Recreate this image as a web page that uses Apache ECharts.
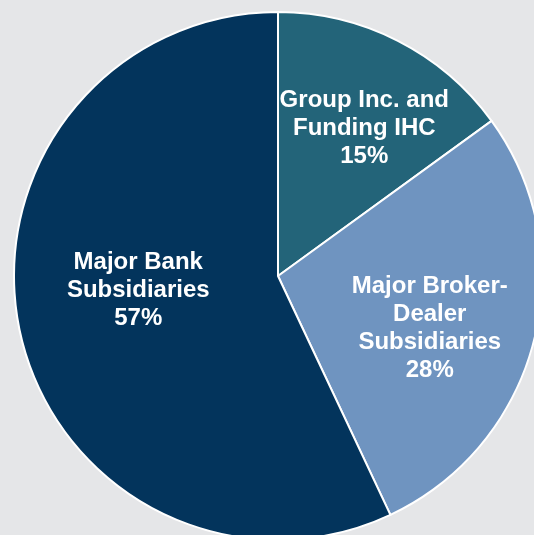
<!DOCTYPE html>
<html lang="en">
<head>
<meta charset="UTF-8">
<title>Pie</title>
<script src="https://cdn.jsdelivr.net/npm/echarts@6/dist/echarts.min.js"></script>
<style>
html, body { margin: 0; padding: 0; background: #e5e6e8; }
#chart { width: 534px; height: 535px; }
</style>
</head>
<body>
<div id="chart"></div>
<script>
const names = ['Group Inc. and\nFunding IHC', 'Major Broker-\nDealer\nSubsidiaries', 'Major Bank\nSubsidiaries'];
const values = [15, 28, 57];
const colors = ['#236479', '#6f94c0', '#03345c'];
const labelOffsets = [[25, -27], [21, 19], [-8, -15]];

const chart = echarts.init(document.getElementById('chart'));
chart.setOption({
animation: false,
backgroundColor: '#e5e6e8',
series: [{
type: 'pie',
center: [278, 276],
radius: [0, 264],
startAngle: 90,
clockwise: true,
avoidLabelOverlap: false,
itemStyle: { borderColor: '#ffffff', borderWidth: 2 },
label: {
position: 'inside',
color: '#ffffff',
fontFamily: '"Liberation Sans", Arial, sans-serif',
fontWeight: 'bold',
fontSize: 24,
lineHeight: 28,
align: 'center',
formatter: p => p.name + '\n' + p.value + '%'
},
labelLine: { show: false },
emphasis: { disabled: true },
data: values.map((v, i) => ({
name: names[i],
value: v,
itemStyle: { color: colors[i] },
label: { offset: labelOffsets[i] }
}))
}]
});
</script>
</body>
</html>
